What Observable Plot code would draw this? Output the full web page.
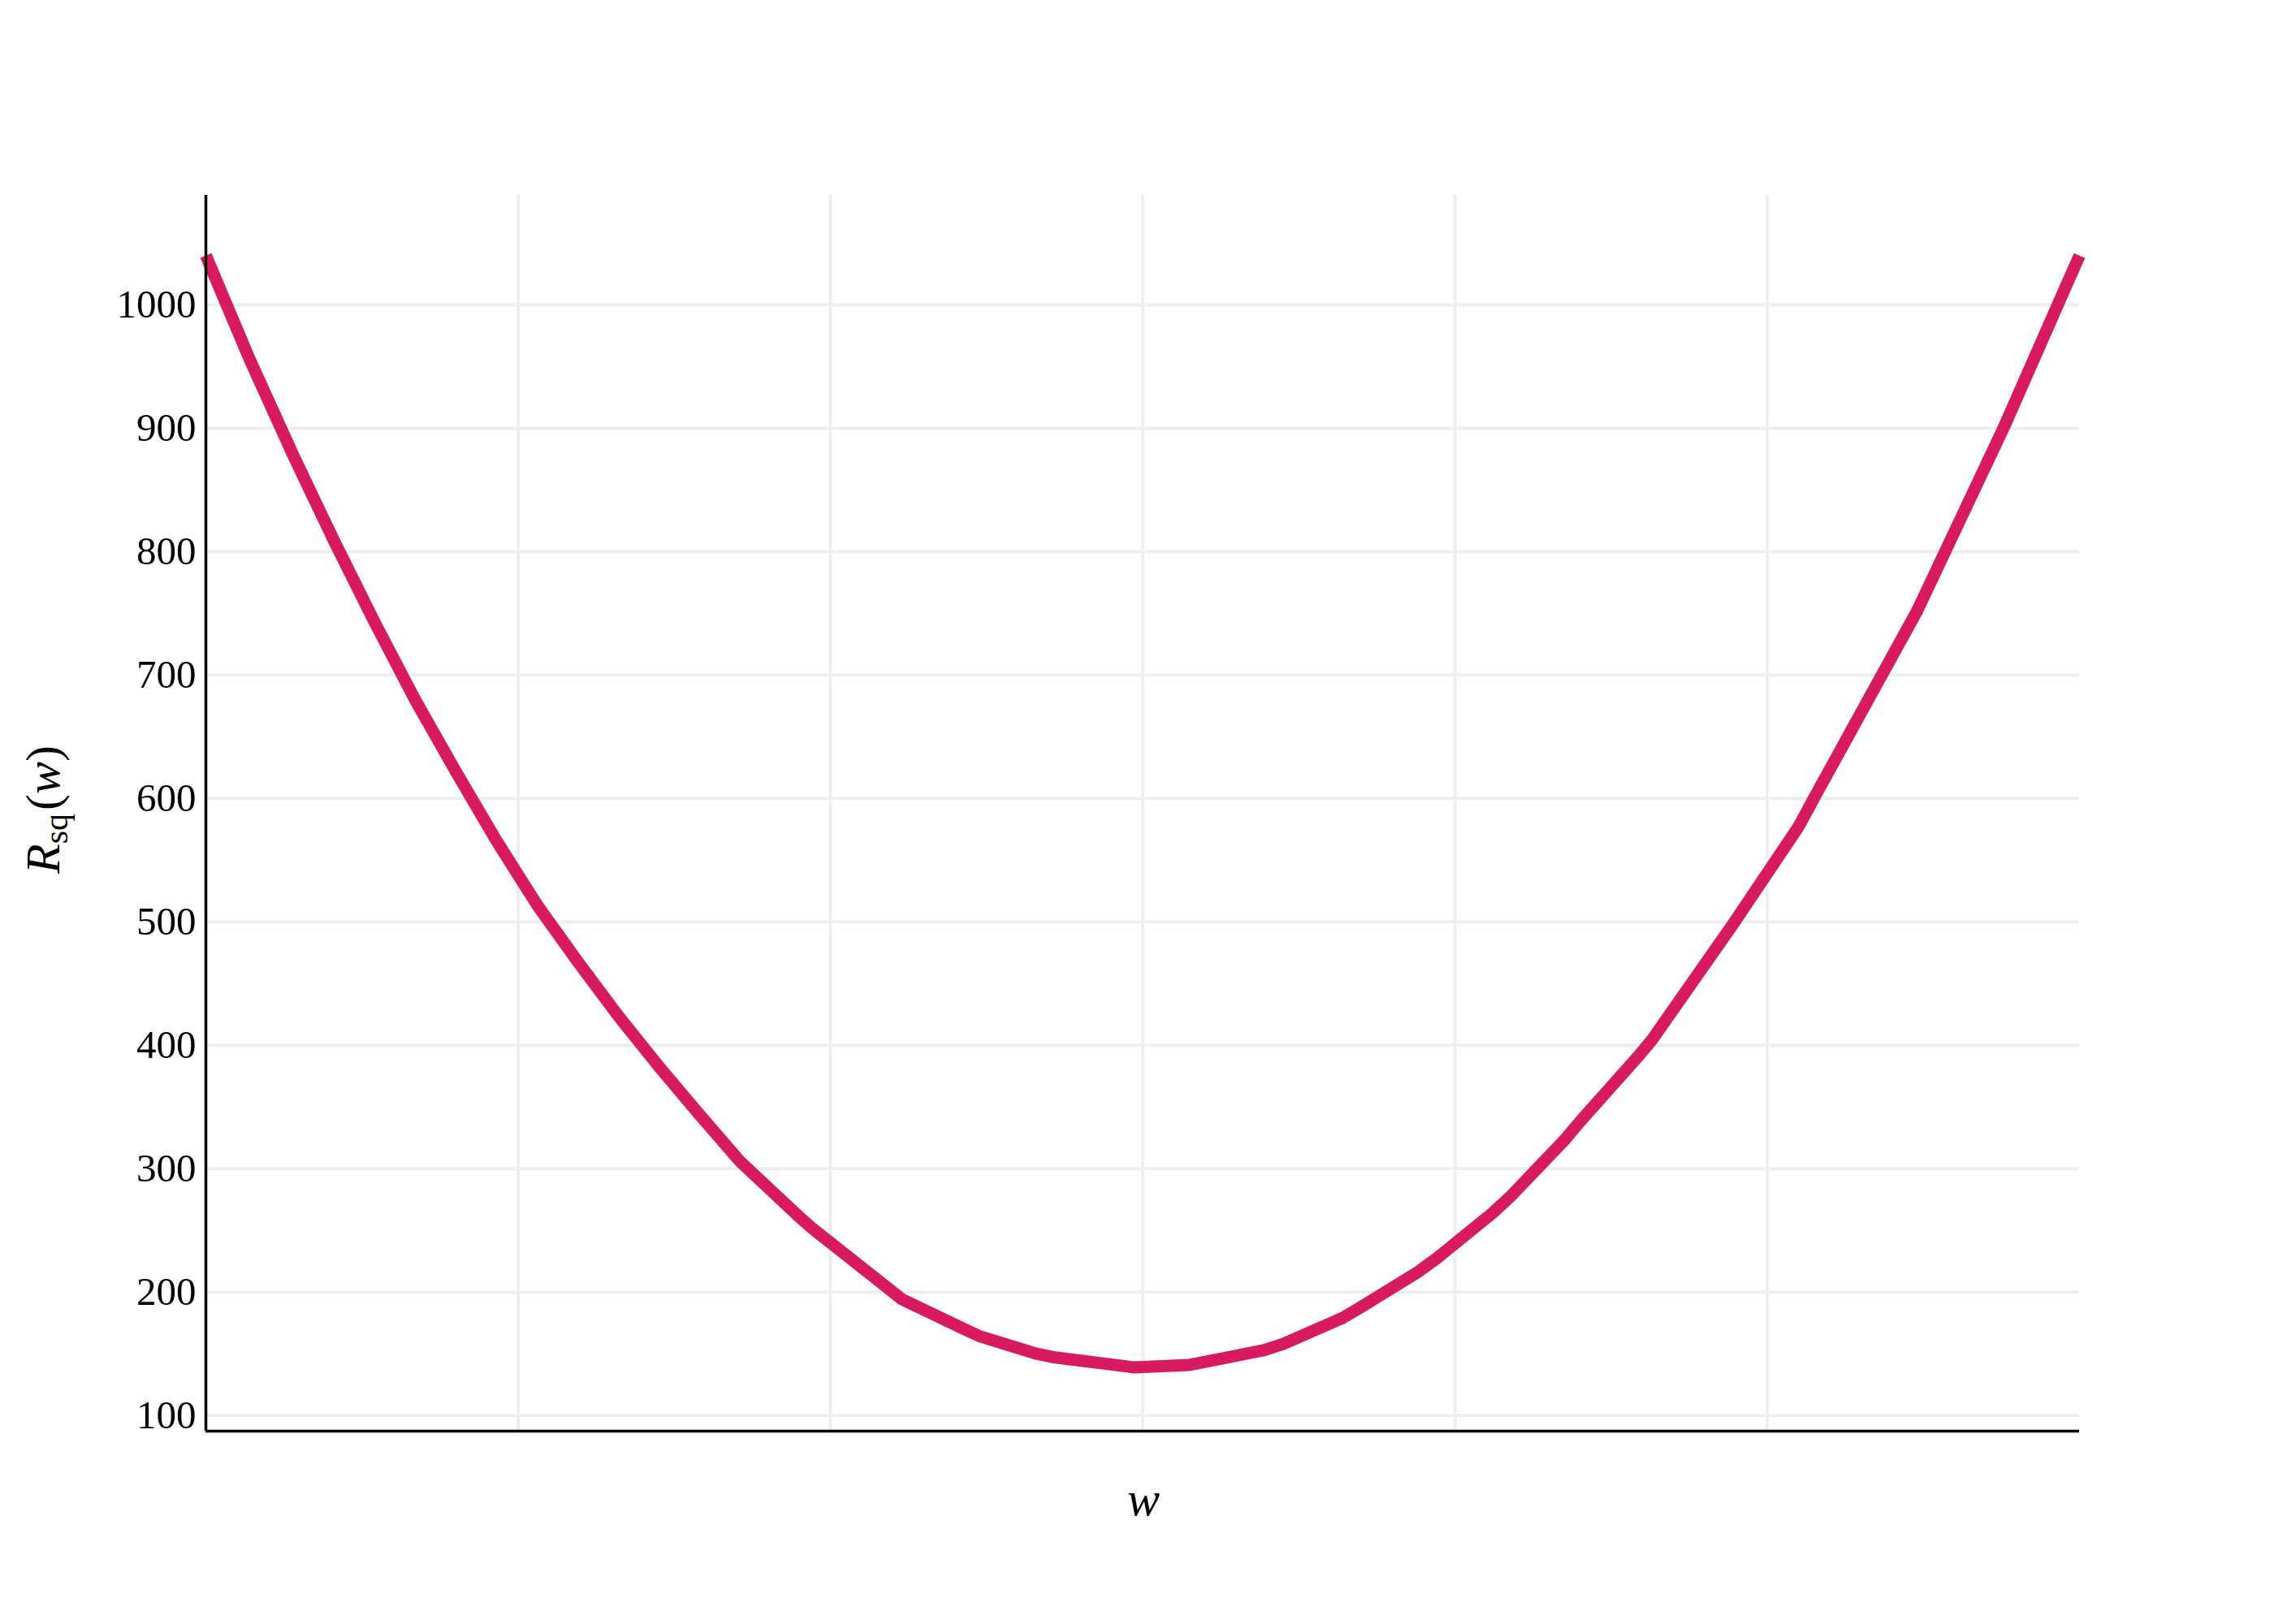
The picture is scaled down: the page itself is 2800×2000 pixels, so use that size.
<!DOCTYPE html>
<html><head><meta charset="utf-8">
<script src="https://cdn.jsdelivr.net/npm/d3@7"></script>
<script src="https://cdn.jsdelivr.net/npm/@observablehq/plot@0.6"></script>
<style>body{margin:0;background:#fff} svg{display:block}</style>
</head><body><div id="chart"></div>
<script>
const wValues = [-1.00,-0.86,-0.72,-0.59,-0.46,-0.33,-0.20,-0.07,0.06,0.19,0.32,0.45,0.58,0.71,0.90,0.94,1.00,1.18,1.23,1.42,1.48,1.66,1.72,1.91,1.97,2.15,2.21,2.39,2.45,2.64,2.70,2.88,2.94,3.12,3.18,3.35,3.40,3.59,3.63,3.89,4.10,4.16,4.48,4.76,5.00];
const rValues = [1040,956,878,809,743,680,622,566,514,468,424,383,344,306,261,252,240,204,194,171,164,150,147,141,139,141,144,153,158,179,188,216,227,264,278,323,338,392,404,498,577,605,752,902,1040];
const yTicks = [100,200,300,400,500,600,700,800,900,1000];
const xGrid = [0,1,2,3,4];
const xDomain = [-1, 5];
const yDomain = [87.3, 1088.8];
const lineColor = "#d81b60";

const data = wValues.map((w, i) => ({w, r: rValues[i]}));

const chart = Plot.plot({
  width: 2800, height: 2000,
  marginLeft: 253, marginRight: 240, marginTop: 240, marginBottom: 238,
  style: {fontFamily: "'Liberation Serif', serif", fontSize: "49px", color: "#000", background: "#fff"},
  x: {domain: xDomain, axis: null},
  y: {domain: yDomain, axis: null},
  marks: [
    Plot.gridX(xGrid, {stroke: "#eeeeee", strokeOpacity: 1, strokeWidth: 4}),
    Plot.gridY(yTicks, {stroke: "#eeeeee", strokeOpacity: 1, strokeWidth: 4}),
    Plot.axisY(yTicks, {tickSize: 0, tickPadding: 12, fontSize: 49, label: null, tickFormat: d => String(d)}),
    Plot.line(data, {x: "w", y: "r", stroke: lineColor, strokeWidth: 15, strokeLinecap: "butt"}),
    Plot.ruleX([xDomain[0]], {stroke: "#000", strokeWidth: 3.5}),
    Plot.ruleY([yDomain[0]], {stroke: "#000", strokeWidth: 3.5})
  ]
});
document.getElementById("chart").appendChild(chart);

const svg = d3.select(chart);
svg.append("text")
  .attr("x", 1408).attr("y", 1866)
  .attr("text-anchor", "middle")
  .style("font-family", "'Liberation Serif', serif")
  .style("font-style", "italic")
  .style("font-size", "60px")
  .text("w");

const yl = svg.append("text")
  .attr("transform", "translate(73,997) rotate(-90)")
  .attr("text-anchor", "middle")
  .style("font-family", "'Liberation Serif', serif")
  .style("font-size", "60px");
yl.append("tspan").style("font-style", "italic").text("R");
yl.append("tspan").attr("dy", 10).style("font-size", "42px").text("sq");
yl.append("tspan").attr("dy", -10).attr("dx", 4).text("(");
yl.append("tspan").style("font-style", "italic").text("w");
yl.append("tspan").text(")");
</script>
</body></html>
